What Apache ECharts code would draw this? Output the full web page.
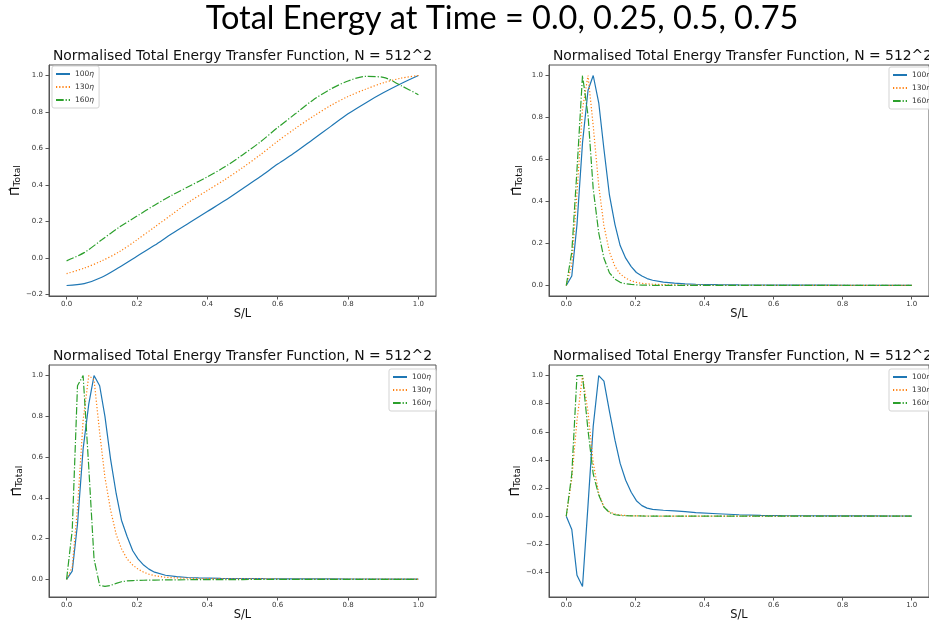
<!DOCTYPE html>
<html><head><meta charset="utf-8">
<script src="https://cdn.jsdelivr.net/npm/echarts@6/dist/echarts.min.js"></script>
<style>html,body{margin:0;padding:0;background:#fff}#c{width:929px;height:628px}</style>
</head><body><div id="c"></div>
<script>
// ---------- data ----------
const seriesNames = ['100η', '130η', '160η'];
const mainTitle = 'Total Energy at Time = 0.0, 0.25, 0.5, 0.75';
const panelTitle = 'Normalised Total Energy Transfer Function, N = 512^2';
const xAxisName = 'S/L';
const xTickValues = [0, 0.2, 0.4, 0.6, 0.8, 1.0];
const yTicksA = [-0.2, 0, 0.2, 0.4, 0.6, 0.8, 1.0];
const yTicksB = [0, 0.2, 0.4, 0.6, 0.8, 1.0];
const yTicksC = [0, 0.2, 0.4, 0.6, 0.8, 1.0];
const yTicksD = [-0.4, -0.2, 0, 0.2, 0.4, 0.6, 0.8, 1.0];

// x positions for the smooth panel (time 0.0)
const xSmooth = [0, 0.05, 0.1, 0.15, 0.2, 0.25, 0.3, 0.35, 0.4, 0.45, 0.5, 0.55, 0.6, 0.65, 0.7, 0.75, 0.8, 0.85, 0.9, 0.95, 1.0];
// x positions for the peaked panels
const xPeak = [0, 0.016, 0.031, 0.047, 0.063, 0.078, 0.094, 0.109, 0.125, 0.141, 0.156, 0.172, 0.188, 0.203, 0.219, 0.234, 0.25, 0.281, 0.313, 0.344, 0.375, 0.438, 0.5, 0.563, 0.625, 0.688, 0.75, 0.813, 0.875, 0.938, 1.0];

// time 0.0
const t00_100 = [-0.15, -0.14, -0.105, -0.05, 0.01, 0.07, 0.135, 0.195, 0.255, 0.315, 0.38, 0.445, 0.515, 0.58, 0.65, 0.72, 0.79, 0.85, 0.905, 0.955, 1.0];
const t00_130 = [-0.085, -0.055, -0.015, 0.035, 0.1, 0.17, 0.24, 0.31, 0.37, 0.43, 0.495, 0.565, 0.64, 0.71, 0.775, 0.835, 0.885, 0.925, 0.96, 0.985, 1.0];
const t00_160 = [-0.015, 0.03, 0.10, 0.17, 0.23, 0.29, 0.345, 0.395, 0.445, 0.50, 0.565, 0.635, 0.715, 0.79, 0.865, 0.925, 0.97, 0.995, 0.99, 0.945, 0.895];

// time 0.25
const t25_100 = [0, 0.045, 0.29, 0.68, 0.93, 1.0, 0.87, 0.65, 0.43, 0.29, 0.19, 0.13, 0.09, 0.062, 0.045, 0.033, 0.025, 0.016, 0.011, 0.008, 0.006, 0.004, 0.003, 0.0025, 0.002, 0.0018, 0.0015, 0.0013, 0.0012, 0.001, 0.001];
const t25_130 = [0, 0.10, 0.44, 0.84, 1.0, 0.76, 0.475, 0.285, 0.16, 0.09, 0.055, 0.035, 0.022, 0.015, 0.01, 0.008, 0.006, 0.004, 0.003, 0.002, 0.0015, 0.001, 0.001, 0.001, 0.001, 0.0008, 0.0007, 0.0006, 0.0005, 0.0005, 0.0005];
const t25_160 = [0, 0.16, 0.55, 1.0, 0.81, 0.46, 0.25, 0.13, 0.06, 0.03, 0.015, 0.008, 0.005, 0.003, 0.002, 0.0015, 0.001, 0.001, 0.0008, 0.0006, 0.0005, 0.0004, 0.0003, 0.0003, 0.0003, 0.0002, 0.0002, 0.0002, 0.0002, 0.0002, 0.0002];

// time 0.5
const t50_100 = [0, 0.04, 0.27, 0.64, 0.86, 1.0, 0.95, 0.80, 0.59, 0.42, 0.29, 0.21, 0.14, 0.10, 0.07, 0.05, 0.035, 0.02, 0.013, 0.009, 0.007, 0.005, 0.004, 0.003, 0.0025, 0.002, 0.002, 0.0015, 0.0015, 0.001, 0.001];
const t50_130 = [0, 0.06, 0.35, 0.78, 1.0, 0.98, 0.72, 0.50, 0.34, 0.22, 0.15, 0.10, 0.07, 0.05, 0.035, 0.025, 0.018, 0.01, 0.007, 0.005, 0.004, 0.003, 0.002, 0.002, 0.0015, 0.0015, 0.001, 0.001, 0.001, 0.001, 0.001];
const t50_160 = [0, 0.24, 0.95, 1.0, 0.55, 0.10, -0.03, -0.035, -0.03, -0.02, -0.012, -0.008, -0.006, -0.005, -0.0045, -0.004, -0.0035, -0.003, -0.0025, -0.002, -0.0018, -0.0012, -0.001, -0.0008, -0.0006, -0.0005, -0.0004, -0.0003, -0.0003, -0.0002, -0.0002];

// time 0.75
const t75_100 = [0, -0.095, -0.42, -0.50, 0.08, 0.64, 1.0, 0.96, 0.745, 0.54, 0.375, 0.255, 0.17, 0.11, 0.075, 0.057, 0.048, 0.042, 0.037, 0.032, 0.025, 0.017, 0.01, 0.006, 0.004, 0.003, 0.0025, 0.002, 0.0015, 0.001, 0.001];
const t75_130 = [0, 0.27, 0.68, 1.0, 0.74, 0.38, 0.16, 0.065, 0.03, 0.015, 0.008, 0.005, 0.003, 0.002, 0.0015, 0.001, 0.001, 0.0008, 0.0006, 0.0005, 0.0004, 0.0003, 0.0003, 0.0002, 0.0002, 0.0002, 0.0002, 0.0002, 0.0002, 0.0002, 0.0002];
const t75_160 = [0, 0.30, 1.0, 1.0, 0.61, 0.30, 0.15, 0.065, 0.025, 0.01, 0.005, 0.003, 0.002, 0.0015, 0.001, 0.0008, 0.0006, 0.0005, 0.0004, 0.0003, 0.0003, 0.0002, 0.0002, 0.0002, 0.0002, 0.0002, 0.0002, 0.0002, 0.0002, 0.0002, 0.0002];

// ---------- build ----------
const colors = ['#1f77b4', '#ff7f0e', '#2ca02c'];
const dashes = ['solid', [1.2, 2.0], [7.7, 1.9, 1.2, 1.9]];
const LW = 1.2;
const AX = '#555';

const panels = [
  { x: xSmooth, ys: [t00_100, t00_130, t00_160], ticks: yTicksA, left: 49, top: 65, h: 231, smooth: 0.3, legend: [52, 66] },
  { x: xPeak, ys: [t25_100, t25_130, t25_160], ticks: yTicksB, left: 549, top: 65, h: 231, smooth: false, legend: [889, 67] },
  { x: xPeak, ys: [t50_100, t50_130, t50_160], ticks: yTicksC, left: 49, top: 365, h: 232, smooth: false, legend: [389, 369] },
  { x: xPeak, ys: [t75_100, t75_130, t75_160], ticks: yTicksD, left: 549, top: 365, h: 232, smooth: false, legend: [889, 369] }
];

const fmt = v => (Math.round(v * 10) / 10).toFixed(1).replace('-', '\u2212');
const FF = 'DejaVu Sans';

const option = {
  backgroundColor: '#fff',
  animation: false,
  title: [{
    text: mainTitle, left: 502, top: 2, textAlign: 'center', padding: 0,
    textStyle: { fontFamily: 'Lato', fontSize: 32.5, fontWeight: 'normal', color: '#000' }
  }],
  grid: [], xAxis: [], yAxis: [], series: [], legend: []
};

panels.forEach((p, i) => {
  option.title.push({
    text: panelTitle, left: p.left + 193.5, top: p.top - 16, textAlign: 'center', padding: 0,
    textStyle: { fontFamily: FF, fontSize: 13.9, fontWeight: 'normal', color: '#111' }
  });
  option.grid.push({ left: p.left, top: p.top, width: 387, height: p.h, show: true, borderColor: AX, borderWidth: 1, backgroundColor: 'transparent', containLabel: false });
  const xmin = Math.min(...p.x), xmax = Math.max(...p.x);
  const allY = [].concat(...p.ys);
  const ymin = Math.min(...allY), ymax = Math.max(...allY);
  const xr = xmax - xmin, yr = ymax - ymin;
  option.xAxis.push({
    type: 'value', gridIndex: i, min: xmin - 0.05 * xr, max: xmax + 0.05 * xr,
    name: xAxisName, nameLocation: 'middle', nameGap: 13,
    nameTextStyle: { fontFamily: FF, fontSize: 11.4, color: '#111' },
    axisLine: { show: true, onZero: false, lineStyle: { color: AX, width: 1 } },
    axisTick: { show: true, length: 3.5, lineStyle: { color: AX }, customValues: xTickValues },
    axisLabel: { fontFamily: FF, fontSize: 7, color: '#333', margin: 5, customValues: xTickValues, formatter: fmt },
    splitLine: { show: false }
  });
  option.yAxis.push({
    type: 'value', gridIndex: i, min: ymin - 0.05 * yr, max: ymax + 0.05 * yr,
    name: '{p|\u03A0\u0302}{s|Total}', nameLocation: 'middle', nameRotate: 90, nameGap: 25,
    nameTextStyle: {
      fontFamily: FF, color: '#111',
      rich: {
        p: { fontFamily: FF, fontSize: 12.5, lineHeight: 13, verticalAlign: 'top', color: '#111' },
        s: { fontFamily: FF, fontSize: 9.2, lineHeight: 9, padding: [6, 0, 0, 0], verticalAlign: 'bottom', color: '#111' }
      }
    },
    axisLine: { show: true, onZero: false, lineStyle: { color: AX, width: 1 } },
    axisTick: { show: true, length: 3.5, lineStyle: { color: AX }, customValues: p.ticks },
    axisLabel: { fontFamily: FF, fontSize: 7, color: '#333', margin: 6, customValues: p.ticks, formatter: fmt },
    splitLine: { show: false }
  });
  p.ys.forEach((ys, k) => {
    option.series.push({
      type: 'line', name: seriesNames[k], xAxisIndex: i, yAxisIndex: i,
      data: p.x.map((xv, j) => [xv, ys[j]]),
      symbol: 'none', smooth: p.smooth,
      lineStyle: { color: colors[k], width: LW, type: dashes[k], cap: 'butt' },
      itemStyle: { color: colors[k] },
      z: 2 + k
    });
  });
  option.legend.push({
    data: seriesNames, orient: 'vertical', left: p.legend[0], top: p.legend[1],
    padding: [4, 5, 4, 3], itemWidth: 14, itemHeight: 7, itemGap: 5,
    borderColor: '#d3d3d3', borderWidth: 1, borderRadius: 2,
    backgroundColor: 'rgba(255,255,255,0.8)', selectedMode: false,
    itemStyle: { opacity: 0, borderWidth: 0 },
    textStyle: { fontFamily: FF, fontSize: 7.5, color: '#333', rich: { i: { fontFamily: FF, fontSize: 7.5, fontStyle: 'italic', color: '#333' } } },
    formatter: n => n.replace('η', '{i|η}')
  });
});

const chart = echarts.init(document.getElementById('c'), null, { renderer: 'canvas' });
chart.setOption(option);
</script>
</body></html>
